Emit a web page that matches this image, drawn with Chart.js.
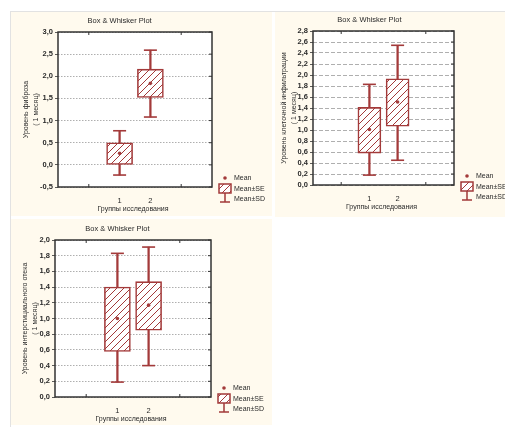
<!DOCTYPE html>
<html>
<head>
<meta charset="utf-8">
<script src="https://cdn.jsdelivr.net/npm/chart.js@4/dist/chart.umd.min.js"></script>
<style>
  html, body { margin: 0; padding: 0; background: #fff; width: 505px; height: 427px; overflow: hidden; }
  body { position: relative; font-family: "Liberation Sans", Arial, sans-serif; }
  canvas { position: absolute; background: #fffaee; }
  #c1 { left: 11px; top: 12px; }
  #c2 { left: 275px; top: 12px; }
  #c3 { left: 11px; top: 219px; }
  .rule-top { position: absolute; left: 10px; top: 11px; width: 495px; height: 1px; background: #e2e2e2; }
  .rule-left { position: absolute; left: 10px; top: 11px; width: 1px; height: 416px; background: #e2e2e2; }
</style>
</head>
<body>
<div class="rule-top"></div>
<div class="rule-left"></div>
<canvas id="c1" width="261" height="204"></canvas>
<canvas id="c2" width="230" height="205"></canvas>
<canvas id="c3" width="261" height="206"></canvas>
<script>
// Study groups
const groups = [1, 2];
const groupLabels = ['1', '2'];

// Fibrosis level (1 month): mean, mean±SE, mean±SD
const fibMean   = [0.26, 1.84];
const fibSeLow  = [0.00, 1.52];
const fibSeHigh = [0.50, 2.16];
const fibSdLow  = [-0.23, 1.08];
const fibSdHigh = [0.77, 2.59];

// Cellular infiltration level (1 month)
const infMean   = [1.01, 1.51];
const infSeLow  = [0.58, 1.07];
const infSeHigh = [1.41, 1.93];
const infSdLow  = [0.18, 0.45];
const infSdHigh = [1.83, 2.54];

// Interstitial oedema level (1 month)
const edeMean   = [1.00, 1.17];
const edeSeLow  = [0.58, 0.85];
const edeSeHigh = [1.40, 1.47];
const edeSdLow  = [0.19, 0.40];
const edeSdHigh = [1.83, 1.91];

const RED = '#a33a3a';
const TEXT = '#2a2a2a';
const FONT = '"Liberation Sans", Arial, sans-serif';

// Diagonal hatch used to fill the Mean±SE boxes
function hatchPattern(ctx) {
  const s = 7;
  const t = document.createElement('canvas');
  t.width = s; t.height = s;
  const g = t.getContext('2d');
  g.fillStyle = '#fff';
  g.fillRect(0, 0, s, s);
  g.strokeStyle = RED;
  g.lineWidth = 1;
  g.beginPath();
  g.moveTo(-1, s + 1); g.lineTo(s + 1, -1);
  g.moveTo(-1, 1); g.lineTo(1, -1);
  g.moveTo(s - 1, s + 1); g.lineTo(s + 1, s - 1);
  g.stroke();
  return ctx.createPattern(t, 'repeat');
}

function fmt(v) {
  return (Math.round(v * 10) / 10).toFixed(1).replace('.', ',');
}

function buildChart(id, cfg) {
  const canvas = document.getElementById(id);
  const ctx = canvas.getContext('2d');
  const pattern = hatchPattern(ctx);

  const whiskers = groups.map((g, i) => ({ x: g, y: [cfg.sdLow[i], cfg.sdHigh[i]] }));
  const caps = [];
  groups.forEach((g, i) => { caps.push({ x: g, y: cfg.sdLow[i] }); caps.push({ x: g, y: cfg.sdHigh[i] }); });
  const boxes = groups.map((g, i) => ({ x: g, y: [cfg.seLow[i], cfg.seHigh[i]] }));
  const means = groups.map((g, i) => ({ x: g, y: cfg.mean[i] }));

  const L = cfg.layout;

  const decorations = {
    id: 'decorations',
    beforeDraw(chart) {
      const a = chart.chartArea;
      const c = chart.ctx;
      c.save();
      c.fillStyle = '#fff';
      c.fillRect(a.left, a.top, a.right - a.left, a.bottom - a.top);
      c.restore();
    },
    afterDraw(chart) {
      const a = chart.chartArea;
      const c = chart.ctx;
      c.save();
      // plot frame
      c.strokeStyle = '#333';
      c.lineWidth = 1.5;
      c.strokeRect(a.left, a.top, a.right - a.left, a.bottom - a.top);

      // small tick marks on the top/bottom edges and inside the right edge
      const xs = chart.scales.x, ys = chart.scales.y;
      c.lineWidth = 1;
      c.beginPath();
      [0, 3].forEach(v => {
        const px = xs.getPixelForValue(v);
        c.moveTo(px, a.top); c.lineTo(px, a.top + 3);
        c.moveTo(px, a.bottom); c.lineTo(px, a.bottom - 3);
      });
      ys.ticks.forEach(t => {
        const py = ys.getPixelForValue(t.value);
        c.moveTo(a.right, py); c.lineTo(a.right - 3, py);
      });
      c.stroke();

      // title
      c.fillStyle = TEXT;
      c.font = '7.5px ' + FONT;
      c.textAlign = 'center';
      c.textBaseline = 'middle';
      c.fillText('Box & Whisker Plot', a.left + 0.4 * (a.right - a.left), a.top - 11);

      // y axis title (two lines, rotated)
      c.save();
      c.translate(cfg.yTitleX, (a.top + a.bottom) / 2);
      c.rotate(-Math.PI / 2);
      c.font = '7px ' + FONT;
      c.fillText(cfg.yTitle[0], 0, 0);
      c.fillText(cfg.yTitle[1], 0, 10);
      c.restore();

      // x axis title
      c.font = '7px ' + FONT;
      c.fillText('Группы исследования', (a.left + a.right) / 2 - 2, a.bottom + 22);

      // legend
      const lx = a.right + 13;
      const by = a.bottom;
      c.fillStyle = RED;
      c.beginPath();
      c.arc(lx, by - 9, 1.8, 0, Math.PI * 2);
      c.fill();
      c.fillStyle = pattern;
      c.fillRect(lx - 6, by - 3, 12, 9);
      c.strokeStyle = RED;
      c.lineWidth = 1.5;
      c.strokeRect(lx - 6, by - 3, 12, 9);
      c.beginPath();
      c.moveTo(lx, by + 6); c.lineTo(lx, by + 15);
      c.moveTo(lx - 5, by + 15); c.lineTo(lx + 5, by + 15);
      c.stroke();
      c.fillStyle = TEXT;
      c.font = '7px ' + FONT;
      c.textAlign = 'left';
      c.fillText('Mean', lx + 9, by - 9);
      c.fillText('Mean±SE', lx + 9, by + 2);
      c.fillText('Mean±SD', lx + 9, by + 12);
      c.restore();
    }
  };

  return new Chart(ctx, {
    type: 'bar',
    data: {
      datasets: [
        { type: 'scatter', data: means, pointStyle: 'circle', pointRadius: 1.8, pointBackgroundColor: RED,
          pointBorderColor: RED, pointBorderWidth: 0, showLine: false, order: 1 },
        { type: 'bar', data: boxes, backgroundColor: pattern, borderColor: RED, borderWidth: 1.6,
          borderSkipped: false, barThickness: cfg.boxWidth, grouped: false, order: 2 },
        { type: 'scatter', data: caps, pointStyle: 'line', pointRadius: 6.5, pointBorderColor: RED,
          pointBorderWidth: 1.6, showLine: false, order: 3 },
        { type: 'bar', data: whiskers, backgroundColor: RED, barThickness: 1.6, grouped: false, order: 4 }
      ]
    },
    options: {
      responsive: false,
      animation: false,
      devicePixelRatio: 1,
      layout: { padding: { left: 0, top: L.top, right: L.right, bottom: 0 } },
      plugins: { legend: { display: false }, tooltip: { enabled: false } },
      scales: {
        x: {
          type: 'linear', min: -1, max: 4, offset: false,
          afterFit(scale) { scale.height = L.xHeight; },
          afterBuildTicks(scale) { scale.ticks = groups.map(v => ({ value: v })); },
          ticks: {
            callback: (v) => groupLabels[groups.indexOf(v)] || '',
            color: TEXT, font: { family: FONT, size: 7.5 }, padding: 1, maxRotation: 0
          },
          grid: { display: false },
          border: { display: false }
        },
        y: {
          min: cfg.yMin, max: cfg.yMax,
          afterFit(scale) { scale.width = L.left; },
          ticks: {
            stepSize: cfg.yStep,
            autoSkip: false,
            callback: (v) => fmt(v),
            color: TEXT, font: { family: FONT, size: 7.5, weight: 'bold' }, padding: 2
          },
          grid: { color: '#9a9a9a', lineWidth: 0.8, tickLength: 3, tickColor: '#333' },
          border: { display: false, dash: cfg.dash }
        }
      }
    },
    plugins: [decorations]
  });
}

buildChart('c1', {
  mean: fibMean, seLow: fibSeLow, seHigh: fibSeHigh, sdLow: fibSdLow, sdHigh: fibSdHigh,
  yMin: -0.5, yMax: 3.0, yStep: 0.5, dash: [1.5, 1.5], boxWidth: 26,
  yTitle: ['Уровень фиброза', '( 1 месяц)'], yTitleX: 15,
  layout: { left: 47, top: 20, right: 60, xHeight: 29 }
});

buildChart('c2', {
  mean: infMean, seLow: infSeLow, seHigh: infSeHigh, sdLow: infSdLow, sdHigh: infSdHigh,
  yMin: 0, yMax: 2.8, yStep: 0.2, dash: [4, 2], boxWidth: 23,
  yTitle: ['Уровень клеточной инфильтрации', '( 1 месяц)'], yTitleX: 9,
  layout: { left: 38, top: 19, right: 51, xHeight: 32 }
});

buildChart('c3', {
  mean: edeMean, seLow: edeSeLow, seHigh: edeSeHigh, sdLow: edeSdLow, sdHigh: edeSdHigh,
  yMin: 0, yMax: 2.0, yStep: 0.2, dash: [1.5, 1.5], boxWidth: 26,
  yTitle: ['Уровень интерстициального отека', '( 1 месяц)'], yTitleX: 14,
  layout: { left: 44, top: 21, right: 61, xHeight: 28 }
});
</script>
</body>
</html>
